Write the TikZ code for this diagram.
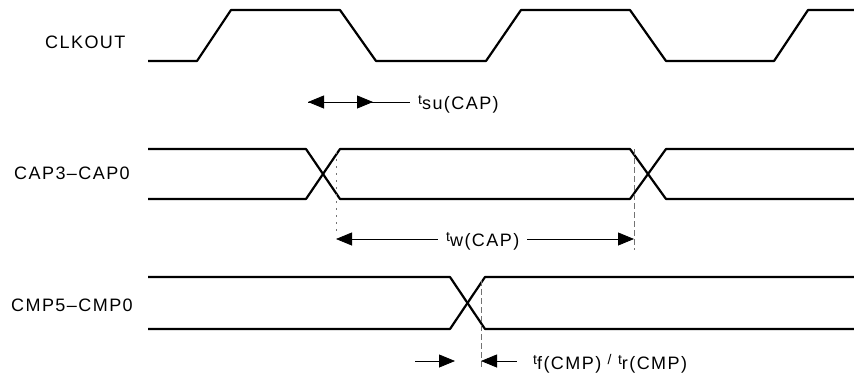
\documentclass[tikz,border=0pt]{standalone}
\usepackage{fontspec}
\setmainfont{Liberation Sans}[LetterSpace=8]
\usetikzlibrary{arrows.meta}
\tikzset{
  sig/.style={line width=2.2pt, line join=round, line cap=butt},
  dimline/.style={line width=0.8pt},
  guide/.style={line width=0.7pt, dashed, dash pattern=on 6pt off 3pt, black!55},
  lbl/.style={anchor=west, inner sep=0pt, font=\fontsize{18}{20}\selectfont},
  tlbl/.style={anchor=west, inner sep=0pt, font=\fontsize{18}{20}\selectfont},
  tipL/.style={{Triangle[length=16pt,width=13pt]}-},
  tipR/.style={-{Triangle[length=16pt,width=13pt]}},
}
\newcommand{\tsub}[2]{{\fontsize{14}{15}\selectfont #1}\raisebox{-5pt}{#2}}
\begin{document}
\begin{tikzpicture}[x=1pt,y=-1pt]
\useasboundingbox (0,0) rectangle (854,381);
% labels
\node[lbl] (clk) at (45,42) {CLKOUT};
\node[lbl] (cap) at (14,173) {CAP3--CAP0};
\node[lbl] (cmp) at (11,305) {CMP5--CMP0};
% CLKOUT
\draw[sig] (148,61)--(197,61)--(231,10)--(340,10)--(376,61)--(486,61)--(521,10)--(630,10)--(666,61)--(774,61)--(808,10)--(854,10);
% CAP bus
\draw[sig] (148,149)--(306,149)--(340,199)--(630,199)--(666,149)--(854,149);
\draw[sig] (148,199)--(306,199)--(340,149)--(630,149)--(666,199)--(854,199);
% CMP bus
\draw[sig] (148,277)--(450,277)--(485,329)--(854,329);
\draw[sig] (148,329)--(450,329)--(485,277)--(854,277);
% guides
\coordinate (g1t) at (336,152); \coordinate (g1b) at (336,234);
\coordinate (g2t) at (634,149); \coordinate (g2b) at (634,250);
\coordinate (g3t) at (481,280); \coordinate (g3b) at (481,368);
\draw[guide, dash pattern=on 2pt off 5pt] (g1t)--(g1b);
\draw[guide] (g2t)--(g2b);
\draw[guide] (g3t)--(g3b);
% tsu
\coordinate (su1) at (308,102); \coordinate (su2) at (373,102); \coordinate (su3) at (410,102);
\draw[dimline,tipL] (su1)--(su3);
\draw[dimline,tipR] (su1)--(su2);
\node[tlbl] (tsu) at (418,104) {\tsub{t}{su(CAP)}};
% tw
\coordinate (tw1) at (336,239); \coordinate (tw2) at (634,239);
\node[tlbl] (tw) at (446,241) {\tsub{t}{w(CAP)}};
\draw[dimline,tipL] (tw1)--([xshift=-8pt]tw.west |- tw1);
\draw[dimline,tipR] ([xshift=8pt]tw.east |- tw1)--(tw2);
% tf/tr
\coordinate (tf1) at (415,361); \coordinate (tf2) at (455,361);
\coordinate (tf3) at (481,361); \coordinate (tf4) at (517,361);
\draw[dimline,tipR] (tf1)--(tf2);
\draw[dimline,tipL] (tf3)--(tf4);
\node[tlbl] (tf) at (533,364) {\tsub{t}{f(CMP)} {\fontsize{14}{15}\selectfont /} \tsub{t}{r(CMP)}};
\end{tikzpicture}
\end{document}
